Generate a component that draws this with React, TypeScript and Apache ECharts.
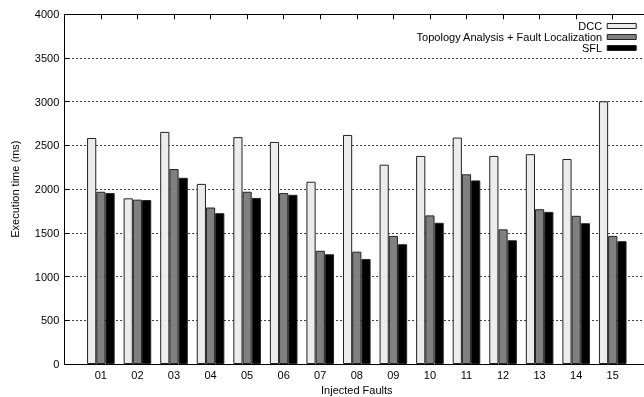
import React, { useEffect, useRef } from "react";
import * as echarts from "echarts";

const categories = ["", "01", "02", "03", "04", "05", "06", "07", "08", "09", "10", "11", "12", "13", "14", "15", ""];
const dccValues = [2585, 1895, 2655, 2060, 2595, 2540, 2085, 2620, 2280, 2380, 2590, 2380, 2400, 2345, 3005];
const topoValues = [1970, 1880, 2230, 1790, 1970, 1955, 1295, 1285, 1465, 1700, 2170, 1540, 1770, 1695, 1465];
const sflValues = [1955, 1875, 2130, 1725, 1900, 1935, 1255, 1200, 1370, 1615, 2100, 1415, 1740, 1610, 1405];
const yTicks = [0, 500, 1000, 1500, 2000, 2500, 3000, 3500, 4000];
const seriesNames = ["DCC", "Topology Analysis + Fault Localization", "SFL"];
const seriesColors = ["#ececec", "#808080", "#000000"];

const pad = (vals: number[]) => ["-", ...vals, "-"];

export default function App() {
  const ref = useRef<HTMLDivElement>(null);
  useEffect(() => {
    if (!ref.current) return;
    const chart = echarts.init(ref.current, undefined, { renderer: "svg" });
    const font = "Liberation Sans, Arial, Helvetica, sans-serif";
    const allVals = [dccValues, topoValues, sflValues];
    chart.setOption({
      animation: false,
      textStyle: { fontFamily: font },
      grid: {
        left: 64.3,
        top: 14.3,
        width: 585,
        height: 349.7,
        containLabel: false,
        outerBoundsMode: "none",
      },
      legend: {
        orient: "vertical",
        right: 7.3,
        top: 20.5,
        padding: 0,
        align: "right",
        itemWidth: 29,
        itemHeight: 5,
        itemGap: 0,
        icon: "rect",
        textStyle: { fontSize: 11, color: "#000", fontFamily: font },
        data: seriesNames.map((n, i) => ({
          name: n,
          itemStyle: { color: seriesColors[i], borderColor: "#222", borderWidth: 1 },
        })),
      },
      xAxis: [
        {
          type: "category",
          data: categories,
          boundaryGap: false,
          name: "Injected Faults",
          nameLocation: "middle",
          nameGap: 20,
          nameTextStyle: { fontSize: 11, color: "#000", fontFamily: font },
          axisLine: { lineStyle: { color: "#000", width: 1 } },
          axisTick: { inside: true, length: 5, lineStyle: { color: "#000" } },
          axisLabel: { fontSize: 11, color: "#000", margin: 5, interval: 0, fontFamily: font },
          splitLine: { show: false },
        },
        {
          type: "category",
          data: categories,
          boundaryGap: false,
          position: "top",
          axisLine: { lineStyle: { color: "#000", width: 1 } },
          axisTick: { inside: true, length: 5, lineStyle: { color: "#000" } },
          axisLabel: { show: false },
          splitLine: { show: false },
        },
      ],
      yAxis: {
        type: "value",
        min: 0,
        max: yTicks[yTicks.length - 1],
        interval: 500,
        name: "Execution time (ms)",
        nameLocation: "middle",
        nameGap: 44,
        nameTextStyle: { fontSize: 11, color: "#000", fontFamily: font },
        axisLine: { show: true, lineStyle: { color: "#000", width: 1 } },
        axisTick: { show: true, inside: true, length: 5, lineStyle: { color: "#000" } },
        axisLabel: { fontSize: 11, color: "#000", margin: 5, fontFamily: font, formatter: (v: number) => String(v) },
        splitLine: { show: true, lineStyle: { color: "#000", width: 1, type: [1.5, 2.5] } },
      },
      series: seriesNames.map((n, i) => ({
        name: n,
        type: "bar",
        xAxisIndex: 0,
        data: pad(allVals[i]),
        barWidth: 9.2,
        barGap: "0%",
        itemStyle: { color: seriesColors[i], borderColor: "#222", borderWidth: 1 },
      })),
    });
    return () => chart.dispose();
  }, []);
  return <div ref={ref} style={{ position: "fixed", left: 0, top: 0, width: 644, height: 397 }} />;
}
